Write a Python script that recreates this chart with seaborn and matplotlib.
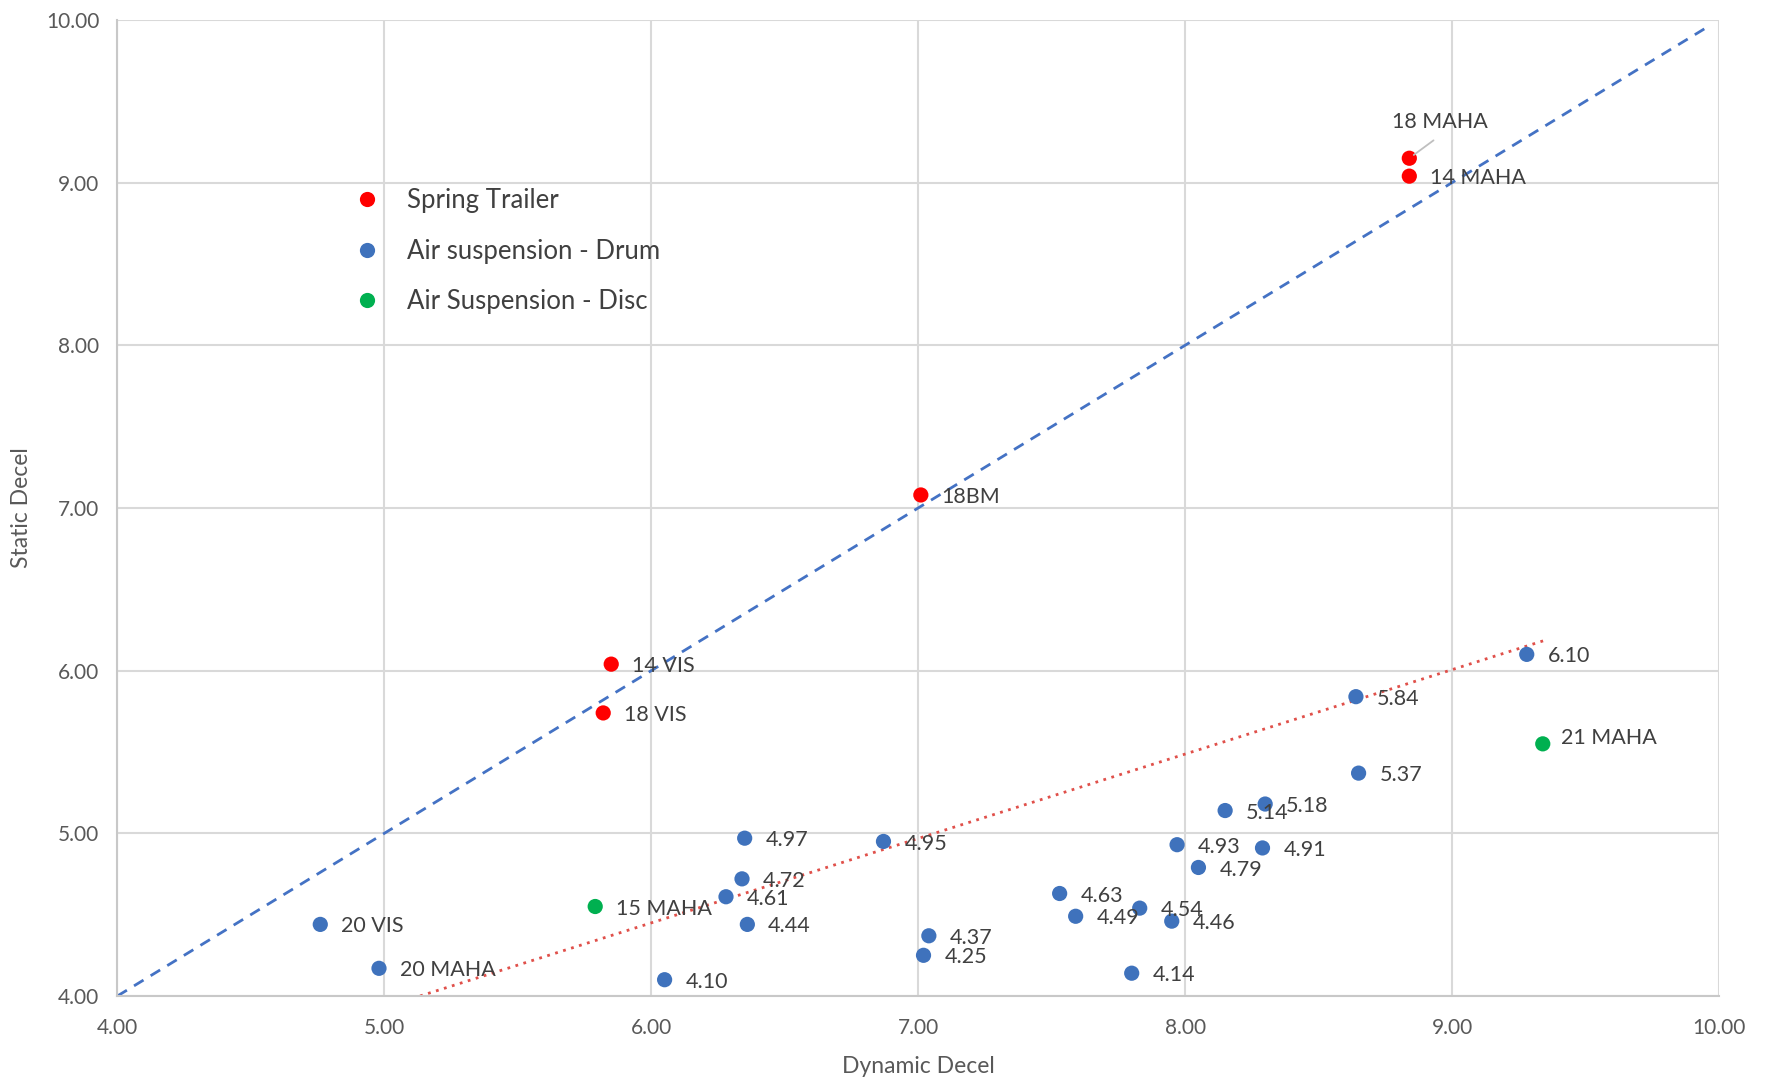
import matplotlib
matplotlib.use("Agg")
import matplotlib.pyplot as plt
import numpy as np
import pandas as pd
import seaborn as sns

# ---- data -------------------------------------------------------------
spring_dynamic = [8.84, 8.84, 7.01, 5.85, 5.82]
spring_static = [9.15, 9.04, 7.08, 6.04, 5.74]
spring_labels = ["18 MAHA", "14 MAHA", "18BM", "14 VIS", "18 VIS"]

drum_dynamic = [4.76, 4.98, 6.05, 6.35, 6.34, 6.28, 6.36, 6.87, 7.04, 7.02,
                7.53, 7.59, 7.83, 7.95, 7.80, 7.97, 8.05, 8.29, 8.15, 8.30,
                8.65, 8.64, 9.28]
drum_static = [4.44, 4.17, 4.10, 4.97, 4.72, 4.61, 4.44, 4.95, 4.37, 4.25,
               4.63, 4.49, 4.54, 4.46, 4.14, 4.93, 4.79, 4.91, 5.14, 5.18,
               5.37, 5.84, 6.10]
drum_labels = ["20 VIS", "20 MAHA"] + [f"{v:.2f}" for v in drum_static[2:]]

disc_dynamic = [5.79, 9.34]
disc_static = [4.55, 5.55]
disc_labels = ["15 MAHA", "21 MAHA"]

categories = ["Spring Trailer", "Air suspension - Drum", "Air Suspension - Disc"]
colors = ["#FF0000", "#3F72BC", "#00B050"]

# reference lines
equal_x = [4.0, 9.97]
equal_y = [4.0, 9.97]
trend_x = [5.134, 9.345]
trend_y = [4.0, 6.185]

x_ticks = [4, 5, 6, 7, 8, 9, 10]
y_ticks = [4, 5, 6, 7, 8, 9, 10]

# ---- frame ------------------------------------------------------------
df = pd.DataFrame({
    "Dynamic Decel": spring_dynamic + drum_dynamic + disc_dynamic,
    "Static Decel": spring_static + drum_static + disc_static,
    "Type": [categories[0]] * len(spring_dynamic)
            + [categories[1]] * len(drum_dynamic)
            + [categories[2]] * len(disc_dynamic),
    "Label": spring_labels + drum_labels + disc_labels,
})

sns.set_theme(style="white")
plt.rcParams["font.family"] = ["Lato", "DejaVu Sans"]

fig = plt.figure(figsize=(17.71, 10.80), dpi=100)
ax = fig.add_axes([0.0663, 0.0778, 0.9043, 0.9037])

grid_c = "#D9D9D9"
text_c = "#595959"
label_c = "#404040"

sns.lineplot(x=equal_x, y=equal_y, ax=ax, color="#4472C4", lw=2.0,
             linestyle=(0, (4, 3)), zorder=2)
sns.lineplot(x=trend_x, y=trend_y, ax=ax, color="#E0504A", lw=2.0,
             linestyle=(0, (1, 2)), zorder=2)

sns.scatterplot(data=df, x="Dynamic Decel", y="Static Decel", hue="Type",
                hue_order=categories, palette=colors, s=120, linewidth=0,
                ax=ax, zorder=3)

# ---- point labels -----------------------------------------------------
label_size = 15.5
offsets = {
    "18 MAHA": (22, 26),
    "21 MAHA": (13, 4),
}
for _, r in df.iterrows():
    lab = r["Label"]
    if lab == "18 MAHA":
        ax.annotate(lab, (r["Dynamic Decel"], r["Static Decel"]),
                    xytext=offsets[lab], textcoords="offset points",
                    ha="center", va="center", fontsize=label_size, color=label_c,
                    arrowprops=dict(arrowstyle="-", color="#BFBFBF", lw=1.3,
                                    relpos=(0.55, 0.0),
                                    shrinkA=6, shrinkB=4), zorder=4)
    else:
        dx, dy = offsets.get(lab, (15, -1.5))
        ax.annotate(lab, (r["Dynamic Decel"], r["Static Decel"]),
                    xytext=(dx, dy), textcoords="offset points",
                    ha="left", va="center", fontsize=label_size, color=label_c,
                    zorder=4)

# ---- axes styling -----------------------------------------------------
ax.set_xlim(4, 10)
ax.set_ylim(4, 10)
ax.set_xticks(x_ticks)
ax.set_yticks(y_ticks)
ax.xaxis.set_major_formatter(matplotlib.ticker.FormatStrFormatter("%.2f"))
ax.yaxis.set_major_formatter(matplotlib.ticker.FormatStrFormatter("%.2f"))
ax.tick_params(axis="both", length=0, labelsize=15, labelcolor=text_c)
ax.tick_params(axis="x", pad=16)
ax.tick_params(axis="y", pad=13)
ax.grid(True, color=grid_c, lw=1.5, zorder=0)
ax.set_axisbelow(True)
for side in ["top", "right"]:
    ax.spines[side].set_visible(False)
for side in ["left", "bottom"]:
    ax.spines[side].set_color("#C8C8C8")
    ax.spines[side].set_linewidth(1.5)

ax.set_xlabel("Dynamic Decel", fontsize=16.5, color=text_c)
ax.set_ylabel("Static Decel", fontsize=16.5, color=text_c)
ax.xaxis.set_label_coords(0.5, -0.0615)
ax.yaxis.set_label_coords(-0.0535, 0.5)

handles, labels = ax.get_legend_handles_labels()
leg = ax.legend(handles[:3], labels[:3], loc="upper left",
                bbox_to_anchor=(0.148, 0.828), frameon=False, fontsize=18.5,
                handlelength=1.0, handletextpad=1.04, labelspacing=1.0,
                borderpad=0, borderaxespad=0, markerscale=1.0)
for t in leg.get_texts():
    t.set_color(label_c)

fig.savefig("out.png", dpi=100, facecolor="white")
